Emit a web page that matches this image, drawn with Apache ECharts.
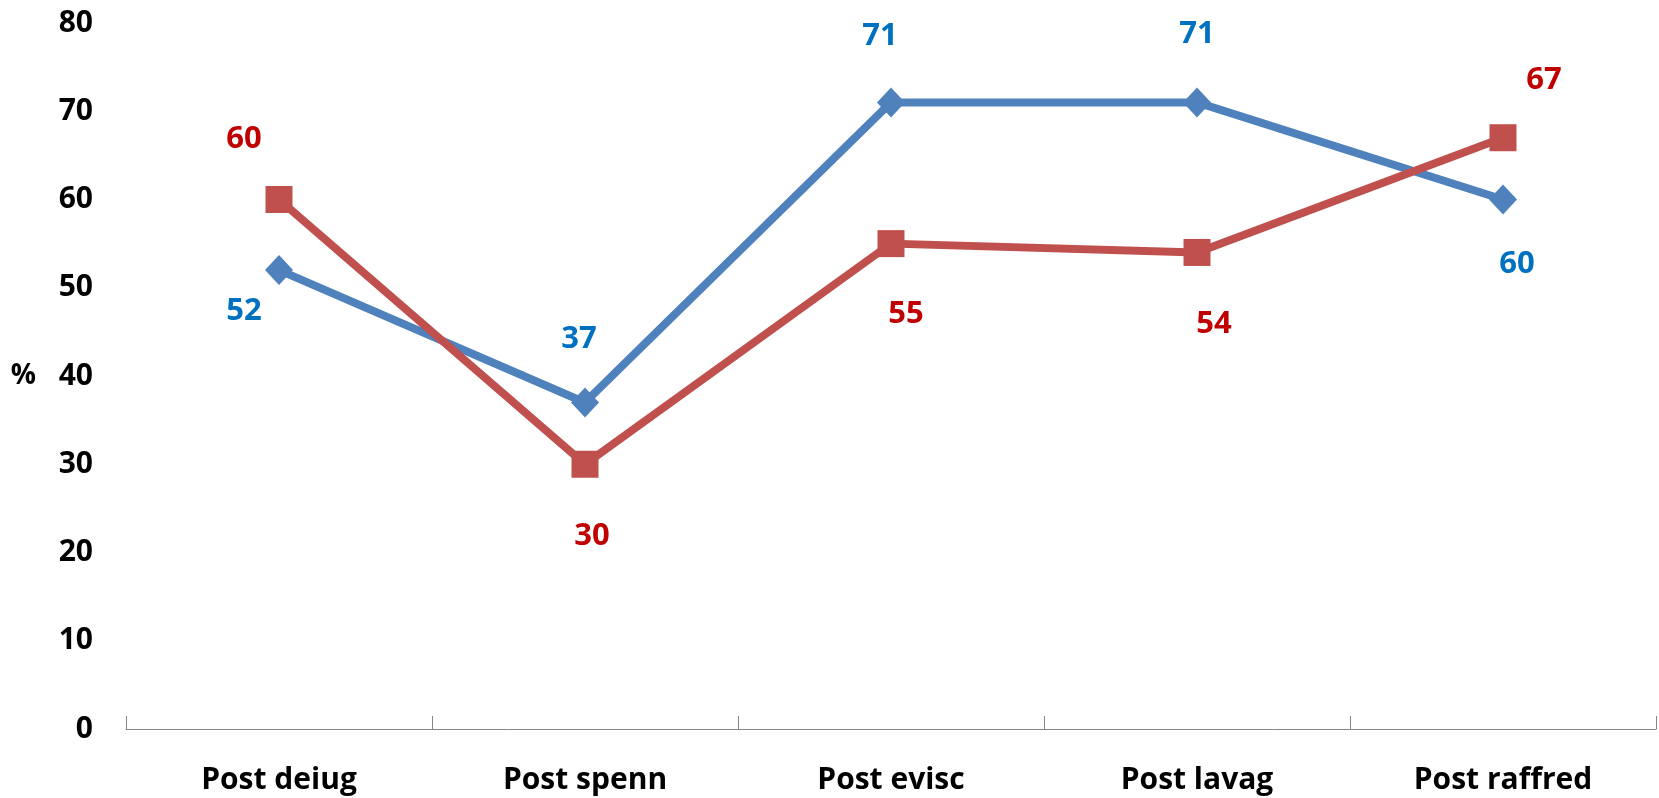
<!DOCTYPE html>
<html>
<head>
<meta charset="utf-8">
<script src="https://cdn.jsdelivr.net/npm/echarts@6/dist/echarts.min.js"></script>
<style>
  html, body { margin: 0; padding: 0; background: #fff; }
  #chart { width: 1659px; height: 798px; }
</style>
</head>
<body>
<div id="chart"></div>
<script>
// data
const categories = ['Post deiug', 'Post spenn', 'Post evisc', 'Post lavag', 'Post raffred'];
const blueValues = [52, 37, 71, 71, 60];
const redValues = [60, 30, 55, 54, 67];

// where each value label sits relative to its point (px)
const blueLabelOffsets = [[-35, 41], [-6, -63], [-11, -66], [0, -68], [14, 65]];
const redLabelOffsets = [[-35, -60], [7, 72], [15, 71], [17, 72], [41, -58]];

const font = '"Open Sans", sans-serif';

function withLabels(values, offsets) {
    return values.map((v, i) => ({
        value: v,
        label: { offset: offsets[i] }
    }));
}

const chart = echarts.init(document.getElementById('chart'));
chart.setOption({
    animation: false,
    grid: { left: 126, right: 3, top: 23, bottom: 69 },
    xAxis: {
        type: 'category',
        data: categories,
        boundaryGap: true,
        axisLine: { show: true, lineStyle: { color: '#868686', width: 1 } },
        axisTick: { show: true, inside: true, length: 13, interval: 0, lineStyle: { color: '#868686', width: 1 } },
        axisLabel: { color: '#000', fontFamily: font, fontWeight: 'bold', fontSize: 30, margin: 36 },
        splitLine: { show: false }
    },
    yAxis: {
        type: 'value',
        min: 0,
        max: 80,
        interval: 10,
        name: '%',
        nameLocation: 'middle',
        nameRotate: 0,
        nameGap: 90,
        nameTextStyle: { color: '#000', fontFamily: font, fontWeight: 'bold', fontSize: 28 },
        axisLine: { show: false },
        axisTick: { show: false },
        axisLabel: { color: '#000', fontFamily: font, fontWeight: 'bold', fontSize: 30, margin: 33 },
        splitLine: { show: false }
    },
    series: [
        {
            type: 'line',
            data: withLabels(blueValues, blueLabelOffsets),
            symbol: 'diamond',
            symbolSize: [28, 30],
            lineStyle: { color: '#4F81BD', width: 8 },
            itemStyle: { color: '#4F81BD' },
            label: {
                show: true,
                position: 'inside',
                color: '#0070C0',
                fontFamily: font,
                fontWeight: 'bold',
                fontSize: 31
            }
        },
        {
            type: 'line',
            data: withLabels(redValues, redLabelOffsets),
            symbol: 'rect',
            symbolSize: 27,
            lineStyle: { color: '#C0504D', width: 8 },
            itemStyle: { color: '#C0504D' },
            label: {
                show: true,
                position: 'inside',
                color: '#C00000',
                fontFamily: font,
                fontWeight: 'bold',
                fontSize: 31
            }
        }
    ]
});
</script>
</body>
</html>
